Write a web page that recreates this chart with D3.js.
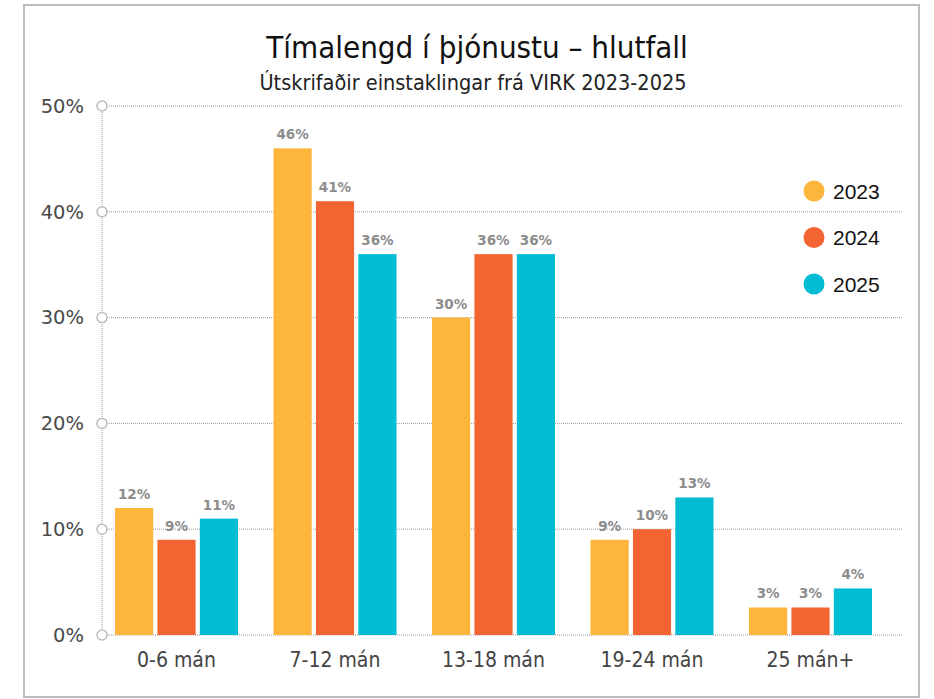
<!DOCTYPE html>
<html>
<head>
<meta charset="utf-8">
<script src="https://cdn.jsdelivr.net/npm/d3@7"></script>
<style>
  body { margin: 0; background: #fff; }
  svg { display: block; font-family: "Liberation Sans Narrow", "DejaVu Sans Condensed", "Roboto", sans-serif; }
</style>
</head>
<body>
<svg id="chart" width="934" height="699"></svg>
<script>
// categories and series
var categories = ["0-6 mán", "7-12 mán", "13-18 mán", "19-24 mán", "25 mán+"];
var years = ["2023", "2024", "2025"];
var values2023 = [12, 46, 30, 9, 2.6];
var values2024 = [9, 41, 36, 10, 2.6];
var values2025 = [11, 36, 36, 13, 4.4];
var yTicks = [0, 10, 20, 30, 40, 50];
var colors = ["#FDB53B", "#F26532", "#00BDD3"];

var series = [values2023, values2024, values2025];

var svg = d3.select("#chart");

// frame
svg.append("rect")
    .attr("x", 24).attr("y", 5)
    .attr("width", 895).attr("height", 692)
    .attr("fill", "none")
    .attr("stroke", "#bdbdbd")
    .attr("stroke-width", 2);

// title
svg.append("text")
    .attr("x", 477).attr("y", 58)
    .attr("text-anchor", "middle")
    .style("font-size", "31px")
    .style("fill", "#111")
    .text("Tímalengd í þjónustu – hlutfall");

svg.append("text")
    .attr("x", 473).attr("y", 90)
    .attr("text-anchor", "middle")
    .style("font-size", "21.5px")
    .style("fill", "#222")
    .text("Útskrifaðir einstaklingar frá VIRK 2023-2025");

// scales
var x0 = d3.scaleBand().domain(categories).range([96, 888.5]);
var x1 = d3.scaleBand().domain(years).range([19, 142]).paddingInner(0.1);
var y = d3.scaleLinear().domain([0, 50]).range([635, 106]);

// gridlines
svg.append("g")
  .selectAll("line")
  .data(yTicks)
  .join("line")
    .attr("x1", 107).attr("x2", 903)
    .attr("y1", function(d) { return y(d); })
    .attr("y2", function(d) { return y(d); })
    .attr("stroke", "#9a9a9a")
    .attr("stroke-width", 1)
    .attr("stroke-dasharray", "1,1");

// vertical axis line
svg.append("line")
    .attr("x1", 102).attr("x2", 102)
    .attr("y1", y(50)).attr("y2", y(0))
    .attr("stroke", "#9a9a9a")
    .attr("stroke-dasharray", "1,1");

// bars
var groups = svg.append("g")
  .selectAll("g")
  .data(categories)
  .join("g")
    .attr("transform", function(d) { return "translate(" + x0(d) + ",0)"; });

groups.selectAll("rect")
  .data(function(d, i) { return years.map(function(yr, j) { return {year: yr, value: series[j][i], k: j}; }); })
  .join("rect")
    .attr("x", function(d) { return x1(d.year); })
    .attr("y", function(d) { return y(d.value); })
    .attr("width", x1.bandwidth())
    .attr("height", function(d) { return y(0) - y(d.value); })
    .attr("fill", function(d) { return colors[d.k]; });

groups.selectAll("text")
  .data(function(d, i) { return years.map(function(yr, j) { return {year: yr, value: series[j][i]}; }); })
  .join("text")
    .attr("x", function(d) { return x1(d.year) + x1.bandwidth() / 2; })
    .attr("y", function(d) { return y(d.value) - 9; })
    .attr("text-anchor", "middle")
    .style("font-family", "'DejaVu Sans', sans-serif")
    .style("font-weight", "bold")
    .style("font-size", "13.5px")
    .style("fill", "#8c8c8c")
    .text(function(d) { return Math.round(d.value) + "%"; });

// tick circles and labels
var ticks = svg.append("g")
  .selectAll("g")
  .data(yTicks)
  .join("g")
    .attr("transform", function(d) { return "translate(0," + y(d) + ")"; });

ticks.append("circle")
    .attr("cx", 102).attr("cy", 0).attr("r", 5)
    .attr("fill", "#fff")
    .attr("stroke", "#bdbdbd")
    .attr("stroke-width", 1.5);

ticks.append("text")
    .attr("x", 84).attr("y", 0)
    .attr("dy", "0.35em")
    .attr("text-anchor", "end")
    .style("font-family", "'DejaVu Sans', sans-serif")
    .style("font-size", "19.5px")
    .style("fill", "#4a4a4a")
    .text(function(d) { return d + "%"; });

// category labels
svg.append("g")
  .selectAll("text")
  .data(categories)
  .join("text")
    .attr("x", function(d) { return x0(d) + 80.5; })
    .attr("y", 667)
    .attr("text-anchor", "middle")
    .style("font-size", "21px")
    .style("fill", "#444")
    .text(function(d) { return d; });

// legend
var legend = svg.append("g")
  .selectAll("g")
  .data(years)
  .join("g")
    .attr("transform", function(d, i) { return "translate(814," + (191 + i * 46.5) + ")"; });

legend.append("circle")
    .attr("r", 10.5)
    .attr("fill", function(d, i) { return colors[i]; });

legend.append("text")
    .attr("x", 19).attr("dy", "0.36em")
    .style("font-family", "'Liberation Sans', Arial, sans-serif")
    .style("font-size", "21px")
    .style("fill", "#111")
    .text(function(d) { return d; });
</script>
</body>
</html>
